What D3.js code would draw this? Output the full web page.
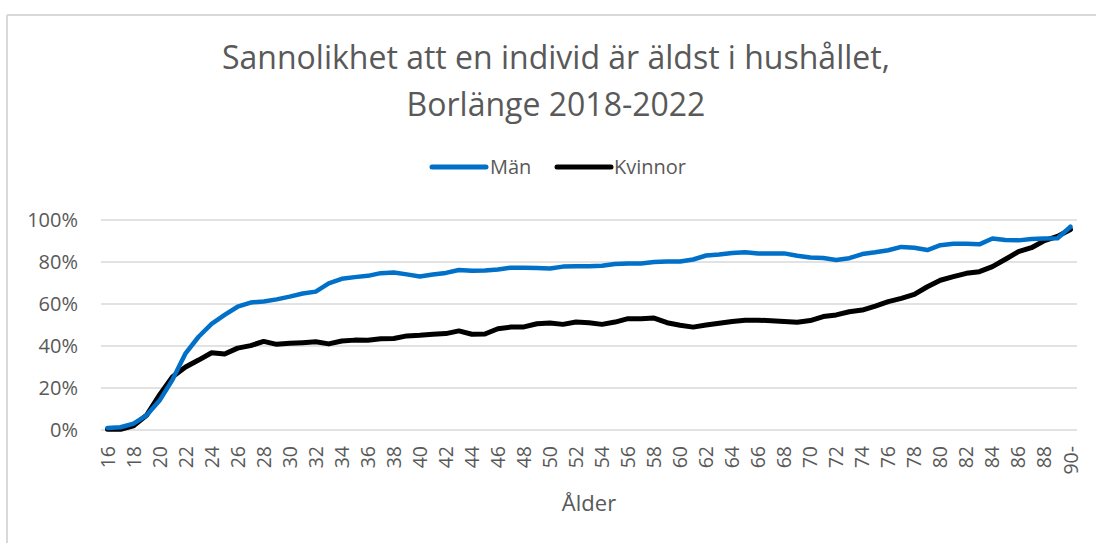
<!DOCTYPE html>
<html>
<head>
<meta charset="utf-8">
<script src="https://cdn.jsdelivr.net/npm/d3@7"></script>
<style>
  html, body { margin: 0; padding: 0; background: #fff; }
  svg { display: block; font-family: "Open Sans", sans-serif; }
</style>
</head>
<body>
<svg id="chart" width="1096" height="543"></svg>
<script>
const titleLines = ["Sannolikhet att en individ är äldst i hushållet,", "Borlänge 2018-2022"];
const xTitle = "Ålder";
const seriesNames = ["Män", "Kvinnor"];
const seriesColors = ["#0070C8", "#000000"];

const ages = [];
for (let a = 16; a <= 89; a++) ages.push(String(a));
ages.push("90-");

const man = [
  0.010, 0.013, 0.030, 0.070, 0.140, 0.240, 0.365, 0.444, 0.505, 0.548,
  0.587, 0.607, 0.612, 0.622, 0.635, 0.650, 0.659, 0.698, 0.720, 0.728,
  0.734, 0.747, 0.750, 0.741, 0.731, 0.740, 0.748, 0.762, 0.758, 0.759,
  0.764, 0.773, 0.773, 0.771, 0.769, 0.778, 0.780, 0.780, 0.782, 0.790,
  0.793, 0.793, 0.800, 0.802, 0.802, 0.812, 0.831, 0.836, 0.843, 0.846,
  0.841, 0.840, 0.841, 0.830, 0.821, 0.819, 0.810, 0.818, 0.838, 0.846,
  0.856, 0.872, 0.868, 0.857, 0.880, 0.887, 0.887, 0.884, 0.912, 0.905,
  0.903, 0.910, 0.912, 0.913, 0.968
];
const kvinnor = [
  0.003, 0.003, 0.020, 0.070, 0.167, 0.254, 0.300, 0.333, 0.368, 0.362,
  0.390, 0.402, 0.422, 0.408, 0.413, 0.416, 0.420, 0.410, 0.424, 0.428,
  0.427, 0.435, 0.436, 0.448, 0.451, 0.456, 0.459, 0.472, 0.456, 0.457,
  0.482, 0.490, 0.491, 0.506, 0.510, 0.503, 0.514, 0.511, 0.503, 0.514,
  0.530, 0.530, 0.533, 0.511, 0.499, 0.490, 0.500, 0.508, 0.517, 0.523,
  0.523, 0.520, 0.517, 0.513, 0.521, 0.540, 0.548, 0.563, 0.571, 0.590,
  0.611, 0.627, 0.646, 0.682, 0.713, 0.730, 0.746, 0.754, 0.778, 0.813,
  0.849, 0.868, 0.902, 0.922, 0.955
];
const yTicks = [0, 0.2, 0.4, 0.6, 0.8, 1.0];
const series = [man, kvinnor];

const svg = d3.select("#chart");
const textColor = "#595959";
const gridColor = "#d9d9d9";

// frame
svg.append("line").attr("x1", 7).attr("x2", 1096).attr("y1", 15).attr("y2", 15)
  .attr("stroke", gridColor).attr("stroke-width", 2);
svg.append("line").attr("x1", 7).attr("x2", 7).attr("y1", 15).attr("y2", 543)
  .attr("stroke", gridColor).attr("stroke-width", 2);

const x = d3.scalePoint().domain(ages).range([101, 1077]).padding(0.5);
const y = d3.scaleLinear().domain([0, 1]).range([430, 220]);

// grid
svg.append("g").selectAll("line").data(yTicks).join("line")
  .attr("x1", 101).attr("x2", 1077)
  .attr("y1", d => y(d)).attr("y2", d => y(d))
  .attr("stroke", gridColor).attr("stroke-width", 1.6);

// y labels
svg.append("g").selectAll("text").data(yTicks).join("text")
  .attr("x", 78).attr("y", d => y(d)).attr("dy", "0.36em")
  .attr("text-anchor", "end").attr("font-size", 20).attr("fill", textColor)
  .text(d => d3.format(".0%")(d));

// x labels
const xLabels = ages.filter((d, i) => i % 2 === 0 || d === "90-");
svg.append("g").selectAll("text").data(xLabels).join("text")
  .attr("transform", d => `translate(${x(d)},446) rotate(-90)`)
  .attr("dy", "0.36em")
  .attr("text-anchor", "end").attr("font-size", 19.5).attr("fill", textColor)
  .text(d => d);

// x title
svg.append("text").attr("x", 589).attr("y", 511).attr("text-anchor", "middle")
  .attr("font-size", 22).attr("fill", textColor).text(xTitle);

// title
svg.append("text").attr("x", 556).attr("y", 69).attr("text-anchor", "middle")
  .attr("font-size", 32).attr("fill", textColor).text(titleLines[0]);
svg.append("text").attr("x", 556).attr("y", 116).attr("text-anchor", "middle")
  .attr("font-size", 32).attr("fill", textColor).text(titleLines[1]);

// lines
const line = d3.line().x((d, i) => x(ages[i])).y(d => y(d));
[1, 0].forEach(k => {
  svg.append("path").datum(series[k])
    .attr("d", line).attr("fill", "none")
    .attr("stroke", seriesColors[k]).attr("stroke-width", k === 0 ? 4.5 : 5)
    .attr("stroke-linejoin", "round").attr("stroke-linecap", "round");
});

// legend
const legend = [
  { name: seriesNames[0], color: seriesColors[0], x1: 432, x2: 486, tx: 490 },
  { name: seriesNames[1], color: seriesColors[1], x1: 557, x2: 611, tx: 614 }
];
legend.forEach(l => {
  svg.append("line").attr("x1", l.x1).attr("x2", l.x2).attr("y1", 167).attr("y2", 167)
    .attr("stroke", l.color).attr("stroke-width", 5).attr("stroke-linecap", "round");
  svg.append("text").attr("x", l.tx).attr("y", 167).attr("dy", "0.36em")
    .attr("font-size", 20).attr("fill", textColor).text(l.name);
});
</script>
</body>
</html>
